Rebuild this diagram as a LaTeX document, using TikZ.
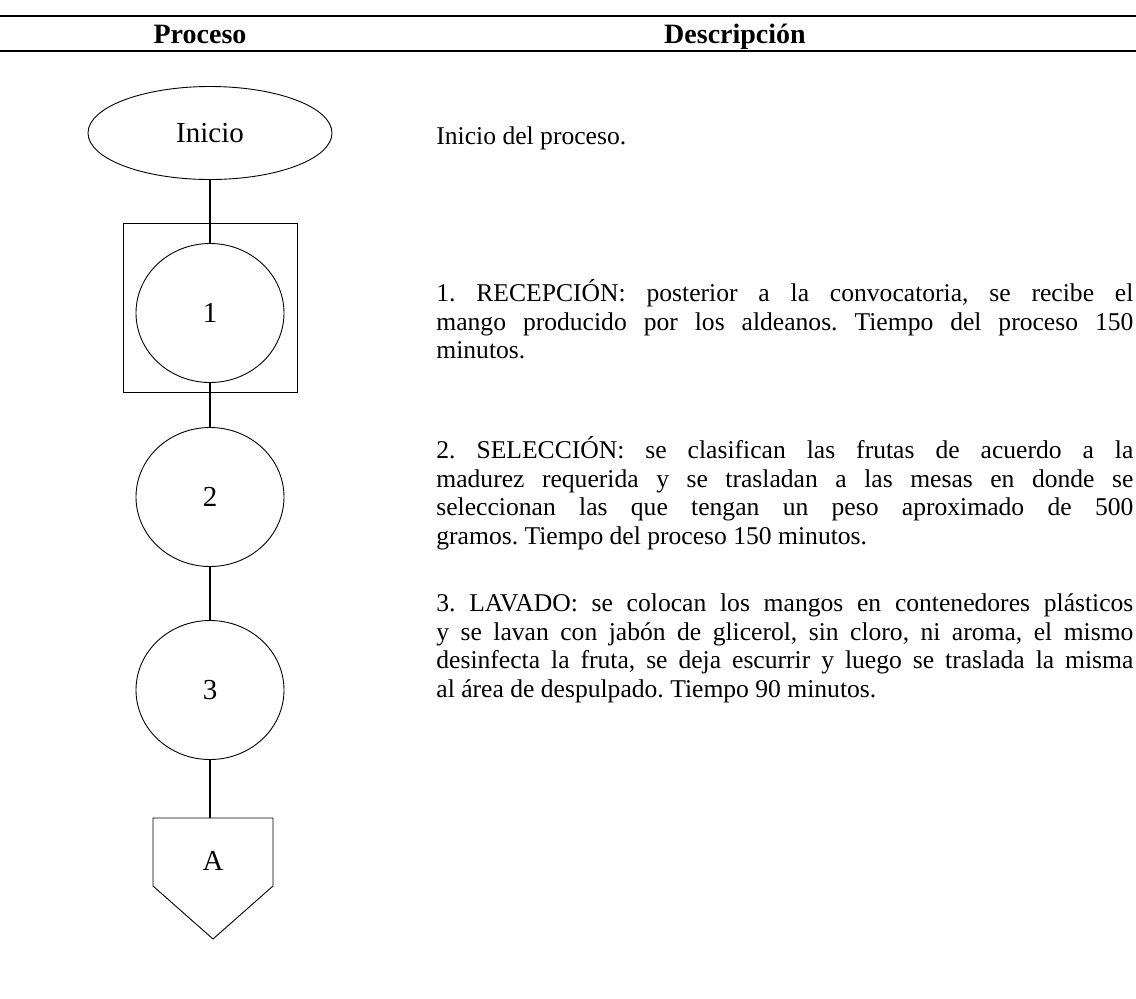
\documentclass[tikz,border=0pt]{standalone}
\usepackage{fontspec}
\setmainfont{Liberation Serif}
\usetikzlibrary{shapes.geometric, positioning, calc}

\begin{document}
\begin{tikzpicture}[x=0.5pt, y=-0.5pt,
    every node/.style={font=\fontsize{14.5}{17}\selectfont, inner sep=0pt},
    simbolo/.style={draw, ellipse, line width=0.45pt},
    paso/.style={simbolo, minimum width=74pt, minimum height=69.5pt},
    conector/.style={line width=1pt},
    regla/.style={line width=0.8pt},
    texto/.style={anchor=north west, text width=348.5pt, align=justify,
        font=\fontsize{12.8}{14.4}\selectfont\frenchspacing},
    titulo/.style={anchor=base, font=\fontsize{14}{16}\selectfont\bfseries}]
    \useasboundingbox (0,0) rectangle (1136,998);
    \coordinate (r1a) at (0,16);
    \coordinate (r1b) at (1136,16);
    \coordinate (r2a) at (0,51);
    \coordinate (r2b) at (1136,51);
    \draw[regla] (r1a) -- (r1b);
    \draw[regla] (r2a) -- (r2b);
    \node[titulo] (hproc) at (200,43) {Proceso};
    \node[titulo] (hdesc) at (735,43) {Descripción};

    \node[simbolo, minimum width=122pt, minimum height=46.5pt] (inicio) at (210,133) {Inicio};
    \node[draw, line width=0.45pt, minimum width=87pt, minimum height=84.5pt] (caja) at (210,308) {};
    \node[paso] (rec) at (210,313) {1};
    \node[paso] (sel) at (210,497) {2};
    \node[paso] (lav) at (210,690) {3};
    \node (conA) at (213,861) {A};
    \coordinate (conAno) at ($(conA)+(-60,-43)$);
    \coordinate (conAne) at ($(conA)+(60,-43)$);
    \coordinate (conAse) at ($(conA)+(60,25)$);
    \coordinate (conAso) at ($(conA)+(-60,25)$);
    \coordinate (punta) at ($(conA)+(0,78)$);
    \draw[line width=0.45pt] (conAno) -- (conAne) -- (conAse) -- (punta) -- (conAso) -- cycle;

    \draw[conector] (inicio.south) -- (rec.north);
    \draw[conector] (rec.south) -- (sel.north);
    \draw[conector] (sel.south) -- (lav.north);
    \draw[conector] (lav.south) -- (lav.south |- conAno);

    \node[texto] (dini) at (436,126) {Inicio del proceso.};
    \node[texto] (drec) at (436,279) {1. RECEPCIÓN: posterior a la convocatoria, se recibe el\linebreak
        mango producido por los aldeanos. Tiempo del proceso 150\linebreak
        minutos.};
    \node[texto] (dsel) at (436,436) {2. SELECCIÓN: se clasifican las frutas de acuerdo a la\linebreak
        madurez requerida y se trasladan a las mesas en donde se\linebreak
        seleccionan las que tengan un peso aproximado de 500\linebreak
        gramos. Tiempo del proceso 150 minutos.};
    \node[texto] (dlav) at (436,593) {3. LAVADO: se colocan los mangos en contenedores plásticos\linebreak
        y se lavan con jabón de glicerol, sin cloro, ni aroma, el mismo\linebreak
        desinfecta la fruta, se deja escurrir y luego se traslada la misma\linebreak
        al área de despulpado. Tiempo 90 minutos.};
\end{tikzpicture}
\end{document}
